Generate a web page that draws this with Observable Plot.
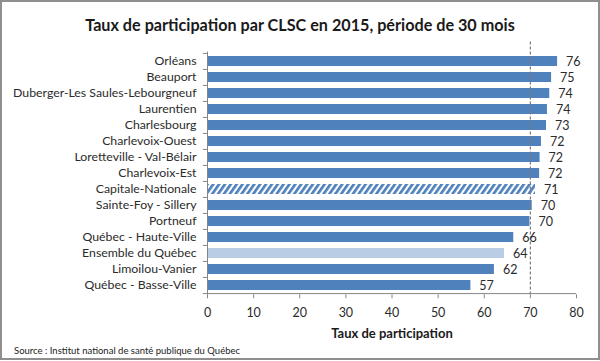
<!DOCTYPE html>
<html><head><meta charset="utf-8">
<script src="https://cdn.jsdelivr.net/npm/d3@7"></script>
<script src="https://cdn.jsdelivr.net/npm/@observablehq/plot@0.6"></script>
<style>
body{margin:0;background:#fff;}
#frame{width:600px;height:360px;box-sizing:border-box;border:2px solid #8f8f8f;background:#fff;overflow:hidden;font-family:Lato,sans-serif;}
#title{height:38px;box-sizing:border-box;padding-top:13px;line-height:20px;text-align:center;font-weight:bold;font-size:16.2px;color:#1a1a1a;white-space:nowrap;}
#chart{height:300px;}
#source{height:18px;line-height:18px;padding-left:12px;font-size:9.5px;color:#222;position:relative;top:2px;white-space:nowrap;}
</style></head><body>
<div id="frame">
<div id="title">Taux de participation par CLSC en 2015, période de 30 mois</div>
<div id="chart"></div>
<div id="source">Source : Institut national de santé publique du Québec</div>
</div>
<script>
const categories = ["Orléans","Beauport","Duberger-Les Saules-Lebourgneuf","Laurentien","Charlesbourg","Charlevoix-Ouest","Loretteville - Val-Bélair","Charlevoix-Est","Capitale-Nationale","Sainte-Foy - Sillery","Portneuf","Québec - Haute-Ville","Ensemble du Québec","Limoilou-Vanier","Québec - Basse-Ville"];
const values = [75.9, 74.6, 74.2, 73.7, 73.5, 72.4, 72.1, 72.0, 71.1, 70.4, 69.9, 66.4, 64.4, 62.2, 57.1];
const valueLabels = [76, 75, 74, 74, 73, 72, 72, 72, 71, 70, 70, 66, 64, 62, 57];
const regionName = "Capitale-Nationale";
const provinceName = "Ensemble du Québec";
const referenceValue = 70;
const xTicks = [0, 10, 20, 30, 40, 50, 60, 70, 80];
const xDomain = [0, 80];
const axisTitle = "Taux de participation";

const data = categories.map((c, i) => ({cat: c, value: values[i], label: valueLabels[i]}));
const W = 596, H = 300;
const marginLeft = 205, marginRight = 22, marginTop = 11.6, marginBottom = 45.7;
const step = (H - marginTop - marginBottom) / categories.length;
const blue = "#4f81bd", lightBlue = "#b9cde5", axisGray = "#868686";

const plot = Plot.plot({
  width: W, height: H, marginLeft, marginRight, marginTop, marginBottom,
  style: {fontFamily: "Lato, sans-serif", fontSize: "12px", color: "#2b2b2b", background: "#fff", overflow: "visible"},
  x: {domain: xDomain, ticks: xTicks, label: null},
  y: {domain: categories, paddingInner: 0.4, paddingOuter: 0.2, label: null},
  marks: [
    Plot.barX(data.filter(d => d.cat !== regionName && d.cat !== provinceName), {x: "value", y: "cat", fill: blue}),
    Plot.barX(data.filter(d => d.cat === provinceName), {x: "value", y: "cat", fill: lightBlue}),
    Plot.barX(data.filter(d => d.cat === regionName), {x: "value", y: "cat", fill: "url(#hatch)"}),
    Plot.ruleX([referenceValue], {stroke: "#7a7a7a", strokeWidth: 1.2, strokeDasharray: "3,2", insetTop: -10}),
    Plot.ruleX([0], {stroke: axisGray}),
    Plot.ruleY([categories[categories.length - 1]], {x1: xDomain[0], x2: xDomain[1], dy: step / 2, stroke: axisGray}),
    Plot.ruleY(categories, {y: d => d, x1: -0.9, x2: 0, dy: -step / 2, stroke: axisGray}),
    Plot.ruleY([categories[categories.length - 1]], {x1: -0.9, x2: 0, dy: step / 2, stroke: axisGray}),
    Plot.ruleX(xTicks, {x: d => d, y1: categories[categories.length - 1], y2: categories[categories.length - 1], dy: step / 2, insetBottom: -4, stroke: axisGray}),
    Plot.axisY({tickSize: 0, tickPadding: 11, fontSize: 12.3, label: null}),
    Plot.axisX({ticks: xTicks, tickSize: 4, tickPadding: 9, fontSize: 12.5, stroke: axisGray, label: null}),
    Plot.text(data, {x: "value", y: "cat", text: d => String(d.label), dx: 8.5, textAnchor: "start", fill: "#2b2b2b", fontSize: 12.5}),
    Plot.text([axisTitle], {frameAnchor: "bottom", dy: 43.5, fontWeight: "bold", fontSize: 13, fill: "#1a1a1a"})
  ]
});

const svg = d3.select(plot);
const defs = svg.insert("defs", ":first-child");
const pat = defs.append("pattern").attr("id", "hatch").attr("patternUnits", "userSpaceOnUse")
  .attr("width", 4.8).attr("height", 4.8).attr("patternTransform", "rotate(35)");
pat.append("rect").attr("width", 4.8).attr("height", 4.8).attr("fill", "#fff");
pat.append("rect").attr("width", 2.7).attr("height", 4.8).attr("fill", blue);

document.getElementById("chart").appendChild(plot);
</script>
</body></html>
